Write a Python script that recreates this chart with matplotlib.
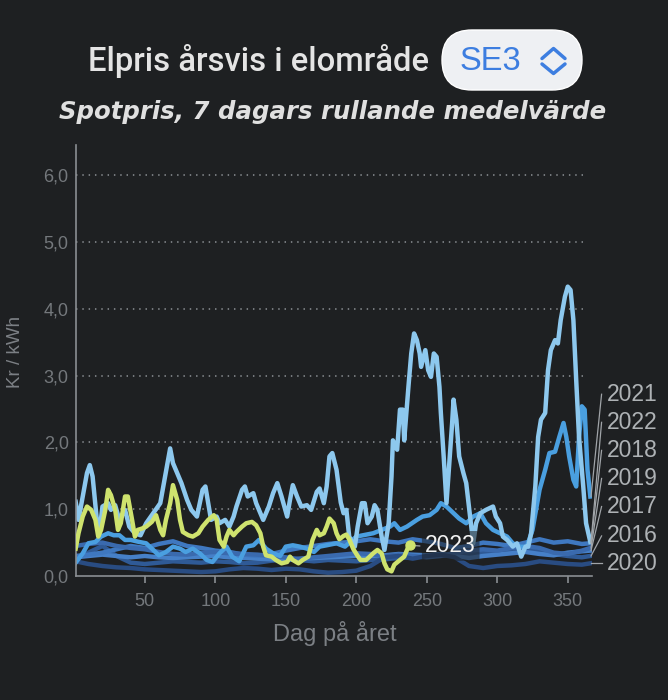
import numpy as np
import matplotlib.pyplot as plt
from matplotlib.patches import FancyBboxPatch
from matplotlib.lines import Line2D

# Data: 7 day rolling mean spot price SE3 (kr/kWh)
days_2022 = [1, 3, 6, 9, 11, 13, 16, 18, 20, 24, 26, 29, 32, 36, 39, 43, 47, 51, 56, 61,
             64, 67, 68, 70, 73, 76, 80, 83, 87, 89, 91, 93, 95, 97, 101, 103, 107, 110, 113, 115,
             119, 121, 123, 127, 129, 132, 134, 138, 141, 144, 147, 151, 153, 155, 158, 161, 165, 168, 172, 174,
             177, 179, 181, 183, 186, 189, 191, 193, 195, 199, 201, 204, 206, 208, 211, 213, 215, 218, 220, 223,
             225, 226, 229, 231, 233, 234, 237, 239, 241, 243, 245, 246, 249, 251, 253, 255, 257, 259, 260, 262,
             264, 265, 268, 269, 271, 273, 276, 278, 281, 283, 285, 288, 292, 297, 299, 302, 304, 307, 309, 311,
             314, 317, 320, 322, 324, 327, 329, 331, 334, 336, 338, 341, 343, 345, 348, 350, 352, 354, 356, 358,
             361, 363, 366]
vals_2022 = [1.11, 0.84, 1.19, 1.54, 1.66, 1.49, 0.84, 0.69, 1.04, 1.09, 0.99, 1.06, 0.84, 0.99, 0.74, 0.64, 0.61, 0.79, 0.94, 1.09,
             1.44, 1.79, 1.91, 1.69, 1.54, 1.39, 1.14, 0.99, 0.89, 1.09, 1.29, 1.34, 1.09, 0.84, 0.89, 0.79, 0.84, 0.74, 0.89, 1.04,
             1.29, 1.34, 1.19, 1.24, 1.09, 0.94, 0.84, 1.04, 1.24, 1.39, 1.19, 0.89, 1.14, 1.36, 1.19, 1.04, 1.06, 0.99, 1.26, 1.31,
             1.09, 1.34, 1.79, 1.84, 1.59, 1.10, 0.94, 0.99, 0.59, 0.44, 0.74, 1.09, 1.09, 0.79, 0.89, 1.06, 0.99, 0.59, 0.39, 0.79,
             1.49, 2.03, 1.89, 2.49, 2.49, 2.03, 2.83, 3.33, 3.63, 3.53, 3.33, 3.13, 3.38, 3.08, 2.98, 3.33, 3.28, 2.83, 2.44, 1.79,
             1.09, 1.39, 2.29, 2.64, 2.34, 1.79, 1.54, 1.39, 0.84, 0.49, 0.79, 0.94, 0.99, 1.04, 0.89, 0.79, 0.59, 0.54, 0.49, 0.44,
             0.49, 0.29, 0.44, 0.44, 0.64, 1.34, 2.08, 2.34, 2.44, 3.08, 3.38, 3.53, 3.48, 3.83, 4.18, 4.33, 4.28, 3.83, 2.93, 2.08,
             1.34, 0.79, 0.51]

days_2021 = [1, 6, 10, 15, 19, 24, 28, 32, 36, 40, 46, 51, 56, 60, 65, 70, 75, 79, 84, 89,
             94, 98, 103, 108, 112, 117, 122, 127, 131, 136, 141, 146, 150, 155, 160, 165, 170, 174, 179, 186,
             192, 200, 212, 224, 227, 231, 236, 243, 247, 252, 257, 260, 264, 269, 273, 278, 283, 288, 292, 297,
             302, 307, 311, 316, 321, 325, 330, 334, 337, 341, 344, 347, 349, 351, 354, 356, 358, 360, 362, 364,
             366]
vals_2021 = [0.20, 0.34, 0.49, 0.51, 0.59, 0.64, 0.61, 0.61, 0.54, 0.54, 0.51, 0.49, 0.39, 0.31, 0.36, 0.44, 0.41, 0.36, 0.41, 0.34,
             0.24, 0.21, 0.34, 0.44, 0.29, 0.22, 0.44, 0.46, 0.54, 0.41, 0.34, 0.30, 0.44, 0.46, 0.44, 0.41, 0.36, 0.44, 0.46, 0.49,
             0.44, 0.59, 0.64, 0.74, 0.79, 0.69, 0.74, 0.84, 0.89, 0.91, 0.99, 1.09, 1.04, 0.94, 0.86, 0.79, 0.89, 0.94, 0.79, 0.69,
             0.64, 0.59, 0.49, 0.44, 0.44, 0.69, 1.29, 1.59, 1.84, 1.86, 2.08, 2.29, 2.08, 1.79, 1.44, 1.34, 2.08, 2.54, 2.49, 1.59,
             1.19]

days_2023 = [1, 3, 6, 9, 12, 15, 17, 19, 22, 24, 26, 29, 31, 33, 36, 38, 41, 43, 45, 48,
             51, 55, 58, 61, 63, 65, 68, 70, 73, 75, 77, 81, 84, 88, 91, 95, 99, 101, 103, 106,
             108, 110, 113, 115, 119, 122, 126, 129, 132, 134, 136, 140, 143, 147, 151, 153, 155, 159, 162, 166,
             169, 172, 174, 177, 179, 181, 184, 186, 188, 191, 193, 195, 198, 201, 203, 207, 212, 215, 218, 220,
             222, 225, 227, 231, 234, 237, 238]
vals_2023 = [0.41, 0.64, 0.89, 1.04, 0.99, 0.84, 0.59, 0.69, 0.99, 1.29, 1.21, 0.99, 0.69, 0.79, 1.19, 1.19, 0.84, 0.59, 0.69, 0.71,
             0.74, 0.81, 0.91, 0.69, 0.61, 0.84, 1.09, 1.36, 1.14, 0.84, 0.66, 0.61, 0.59, 0.64, 0.74, 0.84, 0.91, 0.84, 0.54, 0.44,
             0.59, 0.69, 0.61, 0.66, 0.74, 0.79, 0.81, 0.76, 0.64, 0.44, 0.31, 0.29, 0.24, 0.19, 0.21, 0.29, 0.24, 0.19, 0.24, 0.29,
             0.54, 0.69, 0.61, 0.64, 0.74, 0.86, 0.79, 0.64, 0.55, 0.60, 0.62, 0.55, 0.40, 0.30, 0.24, 0.24, 0.34, 0.39, 0.34, 0.19,
             0.10, 0.07, 0.17, 0.24, 0.29, 0.44, 0.46]

days_old = [1, 10, 20, 30, 40, 50, 60, 70, 80, 90, 100, 110, 120, 130, 140, 150, 160, 170, 180, 190,
            200, 210, 220, 230, 240, 250, 260, 270, 280, 290, 300, 310, 320, 330, 340, 350, 360, 366]
vals_2018 = [0.30, 0.32, 0.35, 0.40, 0.45, 0.42, 0.48, 0.52, 0.45, 0.42, 0.38, 0.36, 0.32, 0.30, 0.33, 0.38, 0.42, 0.45, 0.48, 0.50,
             0.52, 0.55, 0.52, 0.50, 0.55, 0.52, 0.48, 0.42, 0.45, 0.50, 0.48, 0.45, 0.50, 0.55, 0.50, 0.52, 0.48, 0.49]
vals_2019 = [0.45, 0.48, 0.50, 0.45, 0.42, 0.40, 0.36, 0.33, 0.32, 0.35, 0.36, 0.34, 0.33, 0.32, 0.30, 0.28, 0.25, 0.28, 0.30, 0.32,
             0.34, 0.33, 0.30, 0.32, 0.30, 0.28, 0.30, 0.35, 0.38, 0.40, 0.38, 0.42, 0.45, 0.42, 0.35, 0.33, 0.38, 0.42]
vals_2017 = [0.28, 0.30, 0.32, 0.30, 0.28, 0.30, 0.28, 0.27, 0.28, 0.29, 0.30, 0.28, 0.27, 0.26, 0.25, 0.24, 0.26, 0.27, 0.28, 0.29,
             0.30, 0.30, 0.31, 0.33, 0.32, 0.31, 0.33, 0.30, 0.27, 0.30, 0.32, 0.34, 0.36, 0.33, 0.31, 0.35, 0.37, 0.38]
vals_2016 = [0.25, 0.35, 0.45, 0.30, 0.20, 0.18, 0.20, 0.22, 0.21, 0.20, 0.22, 0.21, 0.19, 0.20, 0.23, 0.25, 0.24, 0.22, 0.24, 0.23,
             0.22, 0.24, 0.25, 0.27, 0.28, 0.30, 0.31, 0.30, 0.33, 0.36, 0.35, 0.38, 0.40, 0.36, 0.33, 0.30, 0.28, 0.30]
vals_2020 = [0.22, 0.18, 0.15, 0.13, 0.12, 0.10, 0.09, 0.08, 0.07, 0.06, 0.07, 0.10, 0.12, 0.11, 0.09, 0.11, 0.10, 0.07, 0.05, 0.06,
             0.08, 0.15, 0.28, 0.30, 0.26, 0.30, 0.32, 0.28, 0.15, 0.12, 0.15, 0.16, 0.18, 0.22, 0.20, 0.18, 0.17, 0.19]

old_years = ['2016', '2017', '2018', '2019', '2020']
old_vals = [vals_2016, vals_2017, vals_2018, vals_2019, vals_2020]
old_colors = ['#2f5a96', '#4680c8', '#3f78c0', '#3a6aae', '#294c82']

# right-hand labels, top to bottom
label_order = ['2021', '2022', '2018', '2019', '2017', '2016', '2020']
label_y = [2.72, 2.30, 1.88, 1.46, 1.04, 0.60, 0.19]

yticks = [0, 1, 2, 3, 4, 5, 6]
ytick_labels = ['0,0', '1,0', '2,0', '3,0', '4,0', '5,0', '6,0']
xticks = [50, 100, 150, 200, 250, 300, 350]

bg = '#1e2022'
grey = '#74787c'
c2022 = '#8dc8ee'
c2021 = '#4a9fe0'
c2023 = '#cfe36e'

fig = plt.figure(figsize=(6.68, 7.0), dpi=100, facecolor=bg)
ax = fig.add_axes([0.1133, 0.1771, 0.7725, 0.6158])
ax.set_facecolor(bg)

lw = 3.2
ends = {}
for yr, v, c in zip(old_years, old_vals, old_colors):
    ax.plot(days_old, v, color=c, lw=lw, solid_joinstyle='round')
    ends[yr] = v[-1]
ax.plot(days_2021, vals_2021, color=c2021, lw=lw)
ends['2021'] = vals_2021[-1]
ax.plot(days_2022, vals_2022, color=c2022, lw=lw)
ends['2022'] = vals_2022[-1]
ax.plot(days_2023, vals_2023, color=c2023, lw=lw, zorder=4)
ax.plot(days_2023[-1], vals_2023[-1], 'o', color=c2023, ms=6.5, zorder=4)

ax.set_xlim(1, 367)
ax.set_ylim(0, 6.45)

# dotted grid
ax.hlines(yticks[1:], 1, 362, colors='#7d8185', lw=1.3, linestyles=(0, (0.8, 2.7)), zorder=0)

for s in ['top', 'right']:
    ax.spines[s].set_visible(False)
for s in ['left', 'bottom']:
    ax.spines[s].set_color('#8a8e92')
    ax.spines[s].set_linewidth(1.2)

ax.set_yticks(yticks)
ax.set_yticklabels(ytick_labels)
ax.set_xticks(xticks)
ax.tick_params(axis='y', length=0, pad=5, labelsize=13, labelcolor=grey)
ax.tick_params(axis='x', length=5, width=1.2, color='#8a8e92', pad=7, labelsize=13, labelcolor=grey)
for t in ax.get_xticklabels() + ax.get_yticklabels():
    t.set_fontfamily('Liberation Sans')

# right side labels with leader lines
for yr, ly in zip(label_order, label_y):
    ax.add_line(Line2D([366.5, 374], [ends[yr], ly], color='#a0a4a8', lw=0.9, clip_on=False))
    ax.text(377.4, ly, yr, va='center', ha='left', fontsize=16.5, color='#aeb2b5',
            family='Liberation Sans', clip_on=False)

# 2023 label
ax.add_line(Line2D([days_2023[-1], 245], [vals_2023[-1], vals_2023[-1] - 0.01], color='#a0a4a8', lw=0.9))
ax.text(249, vals_2023[-1] - 0.01, '2023', va='center', ha='left', fontsize=16.5, color='#f2f2f2',
        family='Liberation Sans', zorder=5,
        bbox=dict(boxstyle='round,pad=0.15', fc=bg, ec='none', alpha=0.55))

# axis labels
fig.text(15 / 668, 1 - 352 / 700, 'Kr / kWh', rotation=90, ha='center', va='center',
         fontsize=13.5, color='#7c8085', family='Liberation Sans')
fig.text(334.5 / 668, 1 - 634 / 700, 'Dag på året', ha='center', va='center',
         fontsize=17, color='#7c8085', family='Liberation Sans')

# header
fig.text(88 / 668, 1 - 61 / 700, 'Elpris årsvis i elområde', ha='left', va='center',
         fontsize=23.6, color='#e4e4e4', family='Roboto', fontweight='medium')
fig.text(333 / 668, 1 - 112 / 700, 'Spotpris, 7 dagars rullande medelvärde', ha='center', va='center',
         fontsize=17.6, color='#e0e0e0', family='DejaVu Sans', fontweight='bold', style='italic')

pill = FancyBboxPatch((4.42, 6.10), 1.40, 0.60, boxstyle='round,pad=0,rounding_size=0.3',
                      transform=fig.dpi_scale_trans, fc='#eef0f3', ec='#ffffff', lw=1)
fig.patches.append(pill)
fig.text(4.60, 6.39, 'SE3', transform=fig.dpi_scale_trans, ha='left', va='center',
         fontsize=23.5, color='#3d7ee0', family='Liberation Sans')
fig.add_artist(Line2D([5.42, 5.535, 5.65], [6.415, 6.515, 6.415], transform=fig.dpi_scale_trans,
                      color='#3d7ee0', lw=2.5, solid_capstyle='round', solid_joinstyle='round'))
fig.add_artist(Line2D([5.42, 5.535, 5.65], [6.36, 6.265, 6.36], transform=fig.dpi_scale_trans,
                      color='#3d7ee0', lw=2.5, solid_capstyle='round', solid_joinstyle='round'))

fig.savefig('out.png', dpi=100, facecolor=bg)
